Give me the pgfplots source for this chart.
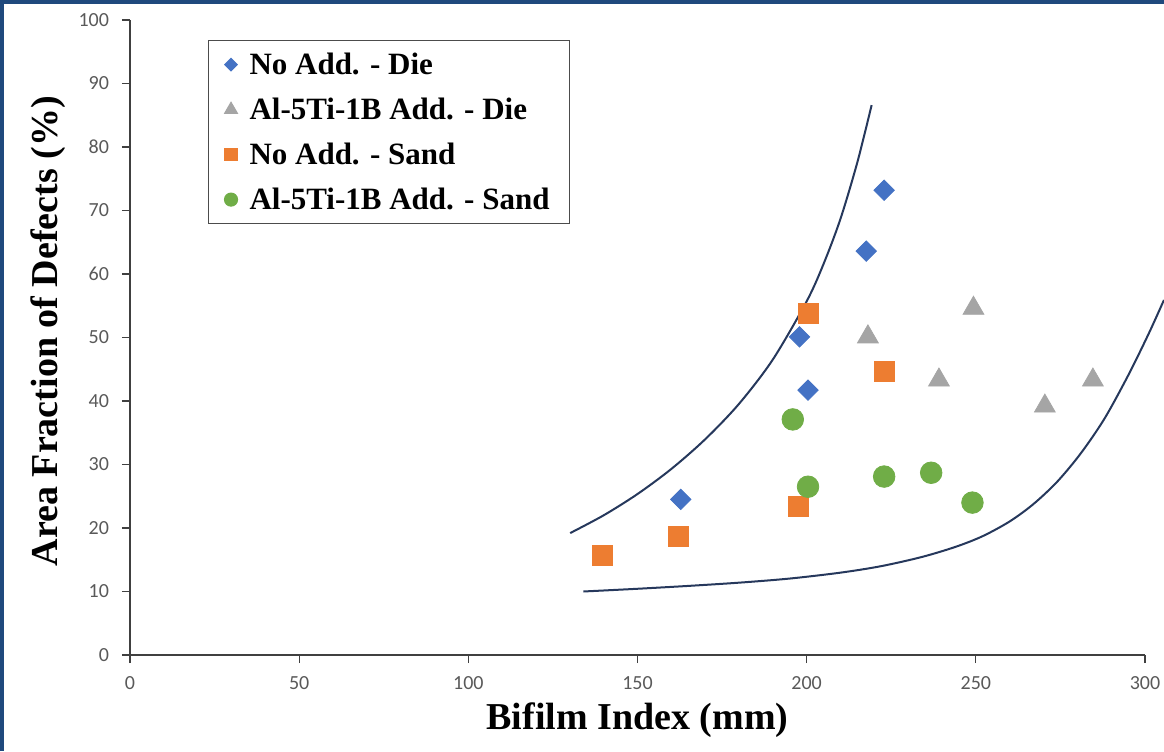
\documentclass[border=0pt]{standalone}
\usepackage{fontspec}
\setmainfont{Liberation Serif}
\newfontfamily\carlito{Carlito}
\usepackage{pgfplots}
\pgfplotsset{compat=1.18}
\definecolor{cblue}{RGB}{68,114,196}
\definecolor{cgray}{RGB}{165,165,165}
\definecolor{corange}{RGB}{237,125,49}
\definecolor{cgreen}{RGB}{112,173,71}
\definecolor{cnavy}{RGB}{38,56,92}
\definecolor{frame}{RGB}{31,73,125}
\definecolor{ticktext}{RGB}{89,89,89}
\begin{document}
\begin{tikzpicture}
\begin{axis}[
  at={(0,0)}, anchor=origin,
  scale only axis, width=507.5pt, height=317.5pt,
  xmin=0, xmax=300, ymin=0, ymax=100,
  axis lines=left,
  axis line style={-, draw=black!75, line width=0.7pt},
  xtick={0,50,...,300}, ytick={0,10,...,100},
  tick style={draw=black!75, line width=0.6pt},
  major tick length=4pt, tick align=outside,
  ticklabel style={font=\carlito\fontsize{10}{12}\selectfont, text=ticktext},
  /pgf/number format/assume math mode=true,
  yticklabel style={xshift=-3pt},
  xticklabel style={yshift=-3pt},
  xlabel={\bfseries Bifilm Index (mm)},
  ylabel={\bfseries Area Fraction of Defects (\%)},
  label style={font=\fontsize{19}{22}\selectfont},
  xlabel style={at={(axis description cs:0.5,0)}, anchor=center, yshift=-32.5pt},
  ylabel style={at={(axis description cs:0,0.51)}, anchor=center, yshift=41pt},
  clip=false,
  legend style={at={(0.0768,0.9685)}, anchor=north west, draw=black!70, line width=0.6pt,
    font=\bfseries\fontsize{15.5}{18}\selectfont,
    inner xsep=8pt, inner ysep=4pt, row sep=6.5pt,
    nodes={text height=11pt, text depth=1pt},
    /tikz/every odd column/.append style={column sep=4pt}},
  legend cell align=left,
  legend image code/.code={\draw[mark repeat=2, mark phase=2, #1, /tikz/every mark/.append style={scale=0.6}] plot coordinates {(0pt,0pt)(5pt,0pt)(10pt,0pt)};},
]
\addplot[only marks, mark=square*, mark size=3.6pt, mark options={rotate=45, draw=cblue, fill=cblue}] coordinates {
 (162.8,24.5) (197.9,50.1) (200.4,41.7) (217.6,63.6) (222.9,73.2)};
\addlegendentry{No Add. - Die}
\addplot[only marks, mark=triangle*, mark size=6pt, mark options={draw=cgray, fill=cgray}] coordinates {
 (218.1,50.1) (239.1,43.3) (249.3,54.6) (270.4,39.2) (284.6,43.3)};
\addlegendentry{Al-5Ti-1B Add. - Die}
\addplot[only marks, mark=square*, mark size=5pt, mark options={draw=corange, fill=corange}] coordinates {
 (139.6,15.7) (162.0,18.6) (197.6,23.4) (200.4,53.8) (222.9,44.6)};
\addlegendentry{No Add. - Sand}
\addplot[only marks, mark=*, mark size=5.4pt, mark options={draw=cgreen, fill=cgreen}] coordinates {
 (195.9,37.1) (200.4,26.5) (222.9,28.1) (236.8,28.7) (249.0,24.0)};
\addlegendentry{Al-5Ti-1B Add. - Sand}
\addplot[cnavy, line width=1pt, smooth, no marks, forget plot] coordinates {
 (130.1,19.2) (140,22.0) (150,25.35) (160,29.3) (170,33.97) (180,39.55) (190,46.53) (200,55.7) (205,61.59) (210,68.7) (215,77.63) (219.2,86.6)};
\addplot[cnavy, line width=1pt, smooth, no marks, forget plot] coordinates {
 (134,10.0) (150,10.43) (165,10.88) (180,11.39) (195,12.04) (210,12.97) (222,13.99) (234,15.43) (244,17.03) (252,18.71) (260,21.03) (267,23.76) (274,27.26) (281,31.74) (288,37.2) (295,44.0) (301,50.5) (305.6,55.9)};
\end{axis}
\draw[frame, line width=2pt] (-64pt,-48pt) -- (-64pt,326.5pt) -- (517pt,326.5pt);
\pgfresetboundingbox
\useasboundingbox (-65pt,-48pt) rectangle (517pt,327.5pt);
\end{tikzpicture}
\end{document}
